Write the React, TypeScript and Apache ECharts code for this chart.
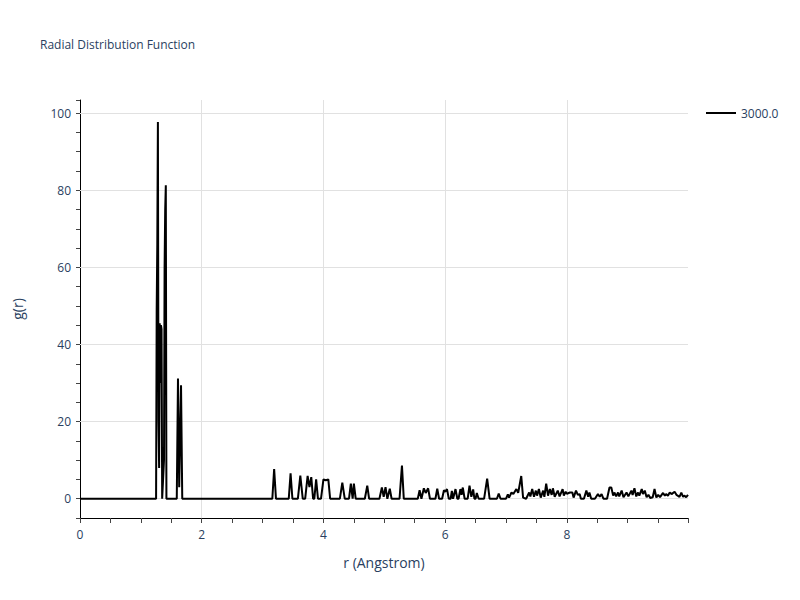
import React, { useEffect, useRef } from 'react';
import * as echarts from 'echarts';

// r (Angstrom) and g(r), point by point
const rValues = [
  0, 1.25, 1.26, 1.27, 1.28, 1.29, 1.3, 1.31, 1.32, 1.33, 1.34, 1.35, 1.36, 1.38, 1.39, 1.4, 1.41, 1.42,
  1.59, 1.61, 1.63, 1.64, 1.66, 1.68,
  3.16, 3.19, 3.22, 3.43, 3.46, 3.49, 3.58, 3.62, 3.66, 3.7, 3.74, 3.77, 3.8, 3.83, 3.85, 3.88, 3.91,
  3.96, 4.0, 4.04, 4.08, 4.11, 4.27, 4.31, 4.35, 4.42, 4.45, 4.48, 4.5, 4.53, 4.68, 4.72, 4.75,
  4.92, 4.96, 4.99, 5.02, 5.05, 5.09, 5.12, 5.25, 5.29, 5.32, 5.55, 5.58, 5.61, 5.62, 5.65, 5.68,
  5.72, 5.75, 5.84, 5.87, 5.9, 5.95, 5.98, 6.0, 6.03, 6.06, 6.09, 6.11, 6.13, 6.14, 6.17, 6.2,
  6.22, 6.25, 6.27, 6.29, 6.32, 6.37, 6.4, 6.43, 6.46, 6.48, 6.5, 6.52, 6.55, 6.64, 6.69, 6.73,
  6.85, 6.88, 6.91, 7.0, 7.03, 7.05, 7.09, 7.12, 7.17, 7.2, 7.25, 7.28, 7.33, 7.38, 7.4, 7.43,
  7.46, 7.49, 7.51, 7.54, 7.57, 7.61, 7.63, 7.66, 7.69, 7.72, 7.75, 7.77, 7.8, 7.85, 7.88, 7.93,
  7.95, 7.98, 8.0, 8.05, 8.09, 8.11, 8.15, 8.18, 8.21, 8.23, 8.28, 8.32, 8.35, 8.37, 8.4, 8.46,
  8.51, 8.54, 8.57, 8.6, 8.66, 8.7, 8.73, 8.76, 8.78, 8.81, 8.84, 8.86, 8.9, 8.93, 8.98, 9.01,
  9.06, 9.08, 9.11, 9.14, 9.17, 9.19, 9.23, 9.25, 9.28, 9.31, 9.34, 9.37, 9.41, 9.44, 9.47, 9.5,
  9.53, 9.58, 9.61, 9.63, 9.66, 9.69, 9.72, 9.77, 9.8, 9.82, 9.85, 9.88, 9.91, 9.93, 9.96, 9.99,
];
const gValues = [
  0, 0, 49, 66, 97.7, 20, 8, 45.5, 30, 45, 44, 0, 0, 10, 60, 75, 81.3, 0,
  0, 31.2, 3, 3, 29.4, 0,
  0, 7.7, 0, 0, 6.6, 0, 0, 6.0, 0, 0, 5.9, 3, 5.6, 0, 0, 5.0, 0,
  0, 5.0, 4.8, 5.0, 0, 0, 4.2, 0, 0, 3.9, 0, 3.9, 0, 0, 3.4, 0,
  0, 2.9, 0.5, 3.0, 0, 2.6, 0, 0, 8.6, 0, 0, 2.2, 0, 0, 2.7, 1.5,
  2.7, 0, 0, 2.6, 0, 0, 2.2, 1.8, 2.5, 0, 0, 2.0, 0, 0, 2.5, 0,
  0, 2.5, 1.0, 2.9, 0, 0, 3.4, 0.5, 2.4, 0, 0, 1.5, 0, 0, 5.2, 0,
  0, 1.3, 0, 0, 1.1, 0.3, 1.6, 1.2, 2.5, 1.5, 5.9, 0.3, 0, 1.6, 0.6, 2.5,
  0.5, 2.1, 0.8, 2.5, 0.3, 2.1, 0.5, 3.9, 0.8, 2.5, 1.0, 2.7, 0.5, 2.1, 0.6, 2.5,
  0.8, 1.8, 1.3, 1.6, 1.6, 0.3, 2.1, 1.0, 1.2, 0, 0, 2.1, 0.5, 1.6, 0, 0,
  1.2, 0.5, 1.2, 0, 0, 2.9, 2.9, 0.8, 1.6, 0.6, 1.6, 0.6, 2.1, 0.4, 1.6, 0.6,
  2.1, 1.0, 2.7, 0.6, 1.6, 0.8, 2.5, 1.2, 2.1, 0.4, 1.0, 0.2, 0.4, 2.5, 0.3, 1.0,
  0.4, 1.5, 0.8, 1.2, 0.8, 1.6, 1.2, 1.8, 1.0, 0.8, 0.5, 1.6, 0.5, 0.8, 0.4, 1.0,
];

const seriesName = '3000.0';
const xTicks = [0, 2, 4, 6, 8];
const yGridValues = [0, 20, 40, 60, 80, 100];

const textColor = '#2a3f5f';
const gridColor = '#e1e1e1';
const font = '"Open Sans", verdana, arial, sans-serif';

const App: React.FC = () => {
  const chartRef = useRef<HTMLDivElement>(null);

  useEffect(() => {
    if (!chartRef.current) return;
    const chart = echarts.init(chartRef.current, undefined, { renderer: 'svg' });

    const option: any = {
      animation: false,
      backgroundColor: '#fff',
      title: {
        text: 'Radial Distribution Function',
        left: 40,
        top: 38,
        padding: 0,
        textStyle: { color: textColor, fontSize: 12, fontWeight: 'normal', fontFamily: font },
      },
      legend: {
        data: [{ name: seriesName, icon: 'rect' }],
        left: 706,
        top: 107,
        padding: 0,
        itemWidth: 30,
        itemHeight: 2,
        itemGap: 10,
        textStyle: { color: textColor, fontSize: 12, fontFamily: font, padding: [0, 0, 0, 0] },
      },
      grid: { left: 80, right: 112, top: 100, bottom: 82 },
      xAxis: {
        type: 'value',
        min: 0,
        max: 9.99,
        interval: 2,
        name: 'r (Angstrom)',
        nameLocation: 'middle',
        nameGap: 37,
        nameTextStyle: { color: textColor, fontSize: 14, fontFamily: font },
        axisLine: { onZero: false, lineStyle: { color: '#000', width: 1 } },
        axisTick: { show: true, length: 5, lineStyle: { color: '#444' } },
        minorTick: { show: true, splitNumber: 4, length: 5, lineStyle: { color: '#444' } },
        axisLabel: {
          color: textColor,
          fontSize: 12,
          fontFamily: font,
          margin: 10,
          showMaxLabel: false,
          formatter: (v: number) => (xTicks.includes(v) ? String(v) : ''),
        },
        splitLine: { show: true, showMaxLine: false, lineStyle: { color: gridColor, width: 1 } },
      },
      yAxis: {
        type: 'value',
        min: -5,
        max: 103.4,
        interval: 5,
        name: 'g(r)',
        nameLocation: 'middle',
        nameGap: 56,
        nameTextStyle: { color: textColor, fontSize: 14, fontFamily: font },
        axisLine: { show: true, lineStyle: { color: '#000', width: 1 } },
        axisTick: { show: true, length: 4, lineStyle: { color: '#444' } },
        axisLabel: {
          color: textColor,
          fontSize: 12,
          fontFamily: font,
          margin: 9,
          formatter: (v: number) => (yGridValues.includes(v) ? String(v) : ''),
        },
        splitLine: { show: false },
      },
      series: [
        {
          name: seriesName,
          type: 'line',
          data: rValues.map((r, i) => [r, gValues[i]]),
          symbol: 'none',
          z: 3,
          lineStyle: { color: '#000', width: 2 },
          itemStyle: { color: '#000' },
          markLine: {
            silent: true,
            z: 1,
            symbol: ['none', 'none'],
            label: { show: false },
            lineStyle: { color: gridColor, type: 'solid', width: 1 },
            data: yGridValues.map((v) => ({ yAxis: v })),
          },
        },
      ],
    };

    chart.setOption(option);
    return () => {
      chart.dispose();
    };
  }, []);

  return (
    <div
      ref={chartRef}
      style={{ position: 'absolute', left: 0, top: 0, width: 800, height: 600 }}
    />
  );
};

export default App;
